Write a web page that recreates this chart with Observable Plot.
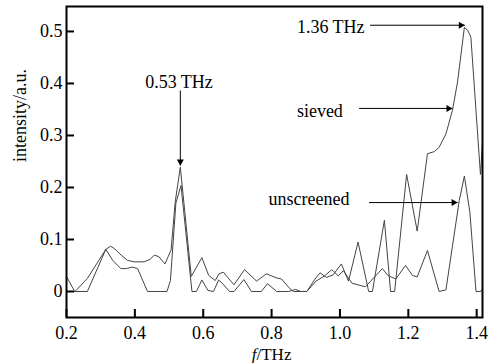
<!DOCTYPE html>
<html><head><meta charset="utf-8">
<script src="https://cdn.jsdelivr.net/npm/d3@7"></script>
<script src="https://cdn.jsdelivr.net/npm/@observablehq/plot@0.6"></script>
<style>body{margin:0;background:#fff}#chart svg{display:block}</style>
</head><body><div id="chart"></div>
<script>
// ---- data ----
const sievedF = [0.2,0.225,0.261,0.29,0.315,0.329,0.339,0.36,0.378,0.398,0.427,0.445,0.457,0.47,0.488,0.506,0.518,0.533,0.565,0.596,0.616,0.635,0.646,0.659,0.69,0.721,0.756,0.785,0.815,0.829,0.854,0.864,0.903,0.925,0.942,0.96,0.98,1.004,1.025,1.053,1.084,1.095,1.13,1.148,1.16,1.195,1.226,1.256,1.276,1.29,1.31,1.329,1.344,1.364,1.374,1.383,1.411,1.417];
const sievedI = [0,0,0.025,0.055,0.081,0.087,0.083,0.07,0.06,0.057,0.057,0.062,0.07,0.067,0.053,0.08,0.172,0.239,0.029,0.065,0.031,0.021,0.034,0.037,0.013,0.042,0.02,0.034,0.026,0.024,0.005,0,0,0.022,0.036,0.027,0.032,0.053,0.02,0.095,0,0,0.137,0,0,0.225,0.116,0.265,0.269,0.277,0.303,0.348,0.403,0.508,0.502,0.489,0.225,0.285];
const unscreenedF = [0.2,0.224,0.261,0.315,0.335,0.359,0.375,0.393,0.408,0.437,0.494,0.504,0.52,0.535,0.567,0.58,0.596,0.614,0.63,0.645,0.657,0.677,0.69,0.719,0.741,0.77,0.788,0.815,0.85,0.87,0.885,0.903,0.93,0.955,0.976,0.995,1.01,1.035,1.074,1.09,1.124,1.14,1.163,1.192,1.212,1.226,1.256,1.29,1.31,1.349,1.364,1.38,1.398,1.412,1.417];
const unscreenedI = [0.029,0,0,0.081,0.06,0.044,0.044,0.047,0.044,0,0,0.021,0.17,0.204,0,0,0.022,0.002,0,0.022,0.015,0,0,0.023,0,0,0.015,0,0,0.004,0,0,0.02,0.03,0.042,0.03,0.04,0.016,0.009,0.02,0.044,0.031,0.024,0.05,0.031,0.028,0.079,0,0.003,0.175,0.222,0.153,0,0,0.006];

const xTicks = [0.2,0.4,0.6,0.8,1.0,1.2,1.4];
const xTickLabels = ["0.2","0.4","0.6","0.8","1.0","1.2","1.4"];
const yTicks = [0,0.1,0.2,0.3,0.4,0.5];
const yTickLabels = ["0","0.1","0.2","0.3","0.4","0.5"];

const annLabels = ["0.53 THz","1.36 THz","sieved","unscreened"];
const annX = [0.529,0.874,0.874,0.791];
const annY = [0.403,0.509,0.346,0.1765];
const annAnchor = ["middle","start","start","start"];
const arrX1 = [0.533,1.088,1.056,1.085];
const arrY1 = [0.3865,0.512,0.352,0.171];
const arrX2 = [0.533,1.365,1.329,1.344];
const arrY2 = [0.2423,0.512,0.352,0.171];

// ---- tables ----
const sieved = sievedF.map((f,i)=>({f, v: sievedI[i]}));
const unscreened = unscreenedF.map((f,i)=>({f, v: unscreenedI[i]}));
const ann = annLabels.map((t,i)=>({t, x: annX[i], y: annY[i], a: annAnchor[i]}));
const arrows = arrX1.map((x1,i)=>({x1, y1: arrY1[i], x2: arrX2[i], y2: arrY2[i]}));

const serif = "'Liberation Serif','Times New Roman',serif";
const txt = {fontFamily: serif, fontSize: 18, fill: "black", lineAnchor: "middle"};

const chart = Plot.plot({
  width: 501, height: 363,
  marginLeft: 66, marginRight: 19, marginTop: 6, marginBottom: 46,
  style: {fontFamily: serif, fontSize: "18px", background: "white", color: "black"},
  x: {domain: [0.2, 1.417]},
  y: {domain: [-0.05, 0.548]},
  marks: [
    Plot.line(unscreened, {x: "f", y: "v", stroke: "#444", strokeWidth: 1, clip: true}),
    Plot.line(sieved, {x: "f", y: "v", stroke: "#444", strokeWidth: 1, clip: true}),
    Plot.axisX(xTicks, {tickSize: -8, tickPadding: 17, strokeWidth: 2, tickFormat: d => xTickLabels[xTicks.indexOf(d)], label: null, fontSize: 18, fontFamily: serif}),
    Plot.axisY(yTicks, {tickSize: -8, tickPadding: 12, strokeWidth: 2, tickFormat: d => yTickLabels[yTicks.indexOf(d)], label: null, fontSize: 18, fontFamily: serif}),
    Plot.frame({stroke: "black", strokeWidth: 2}),
    Plot.link(arrows, {x1: "x1", y1: "y1", x2: "x2", y2: "y2", stroke: "black", strokeWidth: 1}),
    Plot.dot(arrows.slice(0,1), {x: "x2", y: "y2", symbol: "triangle", r: 2.6, fill: "black", stroke: "none", rotate: 180, dy: -3.9}),
    Plot.dot(arrows.slice(1), {x: "x2", y: "y2", symbol: "triangle", r: 2.6, fill: "black", stroke: "none", rotate: 90, dx: -3.9}),
    Plot.text(ann.filter(d => d.a === "middle"), {x: "x", y: "y", text: "t", textAnchor: "middle", ...txt}),
    Plot.text(ann.filter(d => d.a === "start"), {x: "x", y: "y", text: "t", textAnchor: "start", ...txt}),
    Plot.text(["intensity/a.u."], {frameAnchor: "left", rotate: -90, dx: -46, ...txt}),
    Plot.text(["f"], {frameAnchor: "bottom", dx: -18, dy: 37, textAnchor: "end", fontStyle: "italic", ...txt, fontSize: 17}),
    Plot.text(["/THz"], {frameAnchor: "bottom", dx: -18, dy: 37, textAnchor: "start", ...txt, fontSize: 17})
  ]
});
document.getElementById("chart").append(chart);
</script>
</body></html>
